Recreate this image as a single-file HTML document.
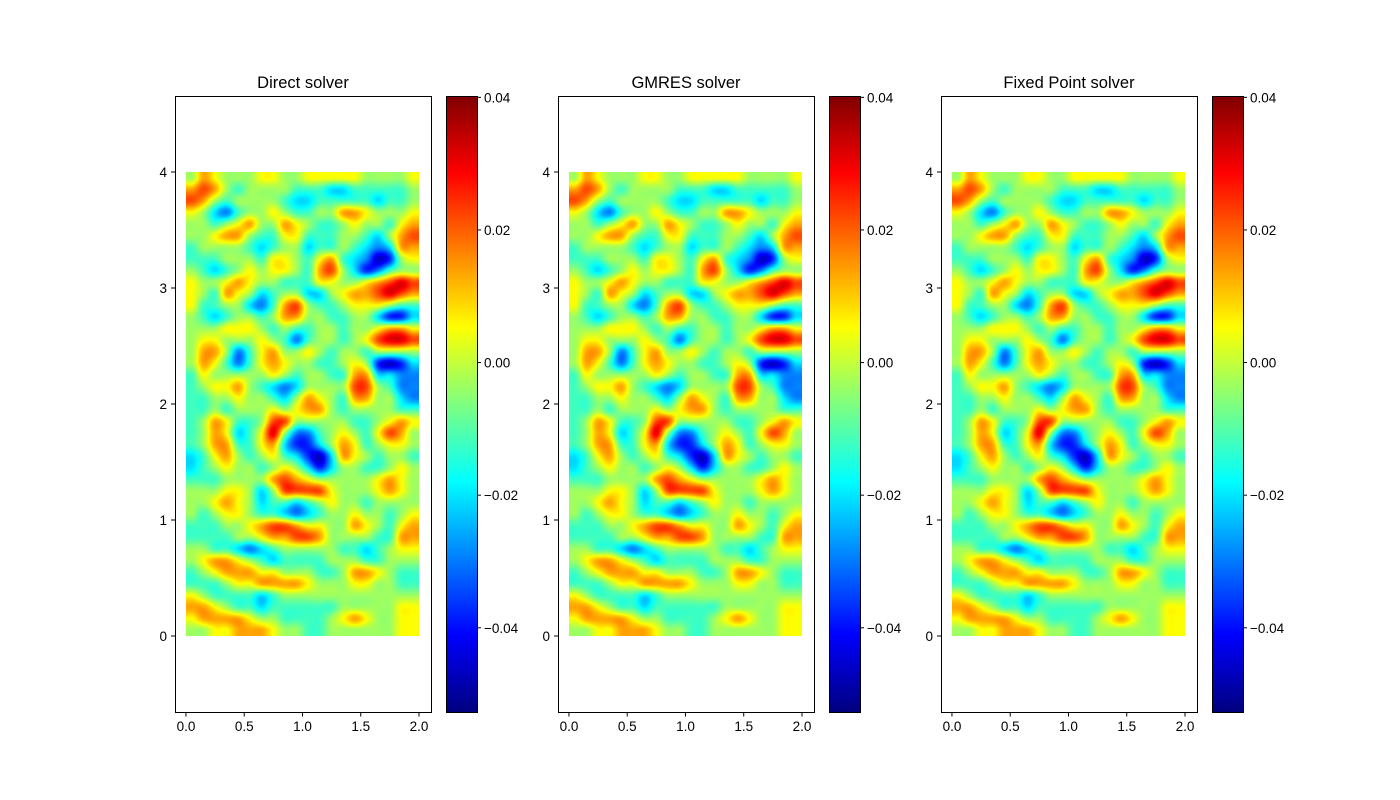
<!DOCTYPE html>
<html><head><meta charset="utf-8">
<style>
body{margin:0;background:#fff;width:1400px;height:800px;overflow:hidden;position:relative;font-family:"Liberation Sans","DejaVu Sans",sans-serif}
canvas{position:absolute}
svg{position:absolute;left:0;top:0}
</style></head>
<body>
<div id="root"></div>
<svg id="ov" width="1400" height="800"></svg>
<script>
const titles=["Direct solver","GMRES solver","Fixed Point solver"];
const xTicks=[0,0.5,1,1.5,2];
const xTickLabels=["0.0","0.5","1.0","1.5","2.0"];
const yTicks=[0,1,2,3,4];
const yTickLabels=["0","1","2","3","4"];
const cbTicks=[0.04,0.02,0,-0.02,-0.04];
const cbTickLabels=["0.04","0.02","0.00","\u22120.02","\u22120.04"];
const vmin=-0.0527, vmax=0.0402;
// field values (units of 0.01), rows from y=4 (top) to y=0, 20 columns x=0..2
const field=[
[0,2,1,0,0,0,1,1,0,0,1,1,1,1,1,0,0,0,0,1],
[2,3,2,0,-1,0,0,0,0,-1,-1,-1,-2,-2,-1,-1,-1,-1,-1,0],
[3,2,0,-1,0,0,0,0,-1,-2,-2,-1,-1,-1,-1,-1,-2,-1,-1,0],
[1,0,-2,-3,-1,0,0,1,0,-1,-1,0,0,2,2,1,0,0,0,1],
[0,0,-1,0,1,2,0,0,2,1,0,-1,-1,0,1,0,0,-1,1,2],
[0,0,1,2,2,0,-1,-1,1,1,-1,-1,-1,0,0,-1,-2,0,2,3],
[-1,0,0,0,0,-1,-2,-1,0,0,-2,-1,-1,0,-1,-2,-3,-2,2,2],
[-1,-1,-1,0,0,0,-1,1,1,0,-1,1,2,-1,-2,-3,-5,-4,0,1],
[0,-1,-2,-1,0,1,0,1,1,0,-1,2,3,0,-2,-4,-3,-1,0,0],
[1,0,0,1,2,1,0,0,-1,-1,-1,1,1,0,0,1,2,3,4,3],
[1,0,-1,2,1,0,-2,-1,0,0,-2,-2,0,1,2,2,3,4,3,2],
[1,-1,-1,0,0,-2,-3,-1,2,3,0,-1,-1,0,1,1,1,0,-1,-1],
[0,-1,-2,-1,0,0,-1,0,2,2,0,0,-1,-1,0,0,-2,-4,-4,-2],
[0,0,0,1,1,1,0,-1,0,-1,-1,0,0,-1,0,0,1,2,2,1],
[0,1,1,0,0,0,1,0,-1,-3,-1,0,0,-1,0,1,3,4,4,3],
[0,2,2,0,-3,-1,1,2,0,0,1,0,-1,0,0,-1,0,0,0,0],
[0,2,1,-1,-3,-1,1,2,1,0,0,-1,-1,0,1,0,-4,-5,-4,-2],
[-1,1,0,0,0,0,0,1,0,-1,0,0,-1,-1,2,2,-2,-2,-3,-3],
[-1,0,1,1,2,0,-1,-2,-3,-2,0,0,0,0,3,3,0,-1,-3,-3],
[-1,-1,0,0,1,0,0,-1,-2,0,2,1,0,-1,2,2,0,0,-2,-3],
[-1,-1,0,-1,0,0,0,1,0,1,2,2,0,-1,0,0,0,0,-1,-1],
[-1,0,2,1,-1,-1,0,3,3,0,0,0,0,0,-1,-1,0,1,2,1],
[-1,0,2,1,-2,-1,1,4,0,-3,-3,-1,0,1,0,-1,1,3,2,0],
[-1,0,2,2,-1,-1,1,2,-2,-4,-4,-2,0,2,1,-1,0,1,1,0],
[-2,-1,1,2,0,-1,0,1,-1,-2,-4,-5,-2,2,1,0,-1,0,0,-1],
[-2,-1,0,1,0,0,-1,0,1,0,-2,-4,-2,0,0,-1,-1,0,1,0],
[-1,-1,-1,0,0,0,0,2,3,2,1,0,0,0,0,0,1,2,1,0],
[0,0,0,1,1,0,-2,0,3,3,3,3,1,0,0,0,1,2,1,0],
[0,0,1,2,1,0,-2,-1,-1,-2,-1,0,1,0,0,-1,0,0,0,0],
[0,-1,0,1,1,0,-1,-1,-2,-3,-2,-1,0,0,1,0,0,-1,0,1],
[-1,-1,-1,0,0,1,2,3,3,2,1,1,0,0,2,1,0,-1,1,2],
[-1,-1,-1,-1,0,0,1,2,2,3,3,2,0,0,0,0,-1,-1,2,2],
[0,0,-1,-1,-2,-3,-2,-1,0,0,0,0,0,-1,-1,-2,-1,0,1,1],
[0,1,2,2,1,0,-1,-2,-1,-1,-1,-1,0,0,0,-1,-1,0,0,0],
[-1,0,1,2,2,2,1,1,0,0,0,-1,-1,0,2,2,1,0,-1,-1],
[-1,-1,-1,0,1,1,2,2,2,2,1,0,0,0,1,1,0,0,-1,-1],
[1,0,-1,-1,-1,-1,-2,-1,0,0,0,0,0,0,0,0,0,0,0,0],
[2,2,1,0,-1,-1,-2,-1,-1,-1,-1,-1,-1,0,0,0,0,0,1,1],
[1,2,2,2,2,1,0,0,-1,-1,-1,-1,0,1,2,1,0,0,1,1],
[0,0,1,1,2,2,2,1,0,0,-1,-1,0,0,0,0,0,0,1,1]
];
const NS="http://www.w3.org/2000/svg";
const ov=document.getElementById('ov');
const root=document.getElementById('root');
function jet(t){t=Math.max(0,Math.min(1,t));const c=v=>Math.round(255*Math.max(0,Math.min(1,v)));
return [c(1.5-Math.abs(4*t-3)),c(1.5-Math.abs(4*t-2)),c(1.5-Math.abs(4*t-1))];}
function el(tag,attrs,txt){const e=document.createElementNS(NS,tag);for(const k in attrs)e.setAttribute(k,attrs[k]);if(txt!==undefined)e.textContent=txt;ov.appendChild(e);return e;}
const AX={top:96,bot:712,w:256,xmin:-0.094,xmax:2.103,ymin:-0.655,ymax:4.655};
const rows=field.length, cols=field[0].length;
function F(r,c){r=Math.max(0,Math.min(rows-1,r));c=Math.max(0,Math.min(cols-1,c));return field[r][c];}
function cr(p0,p1,p2,p3,t){return 0.5*((2*p1)+(-p0+p2)*t+(2*p0-5*p1+4*p2-p3)*t*t+(-p0+3*p1-3*p2+p3)*t*t*t);}
function sample(gx,gy){gx=Math.max(0,Math.min(cols-1,gx));gy=Math.max(0,Math.min(rows-1,gy));
const x0=Math.floor(gx),y0=Math.floor(gy),fx=gx-x0,fy=gy-y0;const r=[];
for(let k=-1;k<=2;k++)r.push(cr(F(y0+k,x0-1),F(y0+k,x0),F(y0+k,x0+1),F(y0+k,x0+2),fx));
return cr(r[0],r[1],r[2],r[3],fy);}
[175,558,941].forEach((L,p)=>{
  const sx=v=>L+(v-AX.xmin)/(AX.xmax-AX.xmin)*AX.w;
  const sy=v=>AX.bot-(v-AX.ymin)/(AX.ymax-AX.ymin)*(AX.bot-AX.top);
  const x0=sx(0),x1=sx(2),y0=sy(4),y1=sy(0);
  const W=Math.round(x1-x0),H=Math.round(y1-y0);
  const cv=document.createElement('canvas');cv.width=W;cv.height=H;
  cv.style.left=Math.round(x0)+'px';cv.style.top=Math.round(y0)+'px';
  
  
  const ctx=cv.getContext('2d');const img=ctx.createImageData(W,H);
  for(let j=0;j<H;j++)for(let i=0;i<W;i++){
    const v=(sample((i+0.5)/W*cols-0.5,(j+0.5)/H*rows-0.5)*0.85-0.35)*0.01;
    const c=jet((v-vmin)/(vmax-vmin));const k=(j*W+i)*4;
    img.data[k]=c[0];img.data[k+1]=c[1];img.data[k+2]=c[2];img.data[k+3]=255;}
  ctx.putImageData(img,0,0);root.appendChild(cv);
  const cbL=L+271,cbW=31;
  const cb=document.createElement('canvas');cb.width=cbW;cb.height=AX.bot-AX.top;
  cb.style.left=cbL+'px';cb.style.top=AX.top+'px';
  
  
  const cc=cb.getContext('2d');
  for(let j=0;j<cb.height;j++){const c=jet(1-(j+0.5)/cb.height);cc.fillStyle=`rgb(${c[0]},${c[1]},${c[2]})`;cc.fillRect(0,j,cbW,1);}
  root.appendChild(cb);
  const cy=v=>AX.bot-(v-vmin)/(vmax-vmin)*(AX.bot-AX.top);
  const cbf=el('rect',{x:cbL+0.5,y:AX.top+0.5,width:cbW,height:AX.bot-AX.top,fill:'none',stroke:'#000','stroke-width':1});
  
  
  cbTicks.forEach((t,i)=>{const y=cy(t);
    el('line',{x1:cbL+cbW,x2:cbL+cbW+4,y1:y,y2:y,stroke:'#000'});
    const tx=el('text',{x:cbL+cbW+7,y:y+5,'font-size':13.5,fill:'#000'},cbTickLabels[i]);
    
    });
  const fr=el('rect',{x:L+0.5,y:AX.top+0.5,width:AX.w,height:AX.bot-AX.top,fill:'none',stroke:'#000','stroke-width':1});
  
  
  xTicks.forEach((t,i)=>{const x=sx(t);
    el('line',{x1:x,x2:x,y1:AX.bot+0.5,y2:AX.bot+4.5,stroke:'#000'});
    const tx=el('text',{x:x,y:AX.bot+19,'font-size':13.5,'text-anchor':'middle',fill:'#000'},xTickLabels[i]);
    
    });
  yTicks.forEach((t,i)=>{const y=sy(t);
    el('line',{x1:L-4,x2:L+0.5,y1:y,y2:y,stroke:'#000'});
    const tx=el('text',{x:L-8,y:y+5,'font-size':13.5,'text-anchor':'end',fill:'#000'},yTickLabels[i]);
    
    });
  const ti=el('text',{x:L+AX.w/2,y:88,'font-size':16.5,'text-anchor':'middle',fill:'#000'},titles[p]);
  
  
});
</script>
</body></html>
